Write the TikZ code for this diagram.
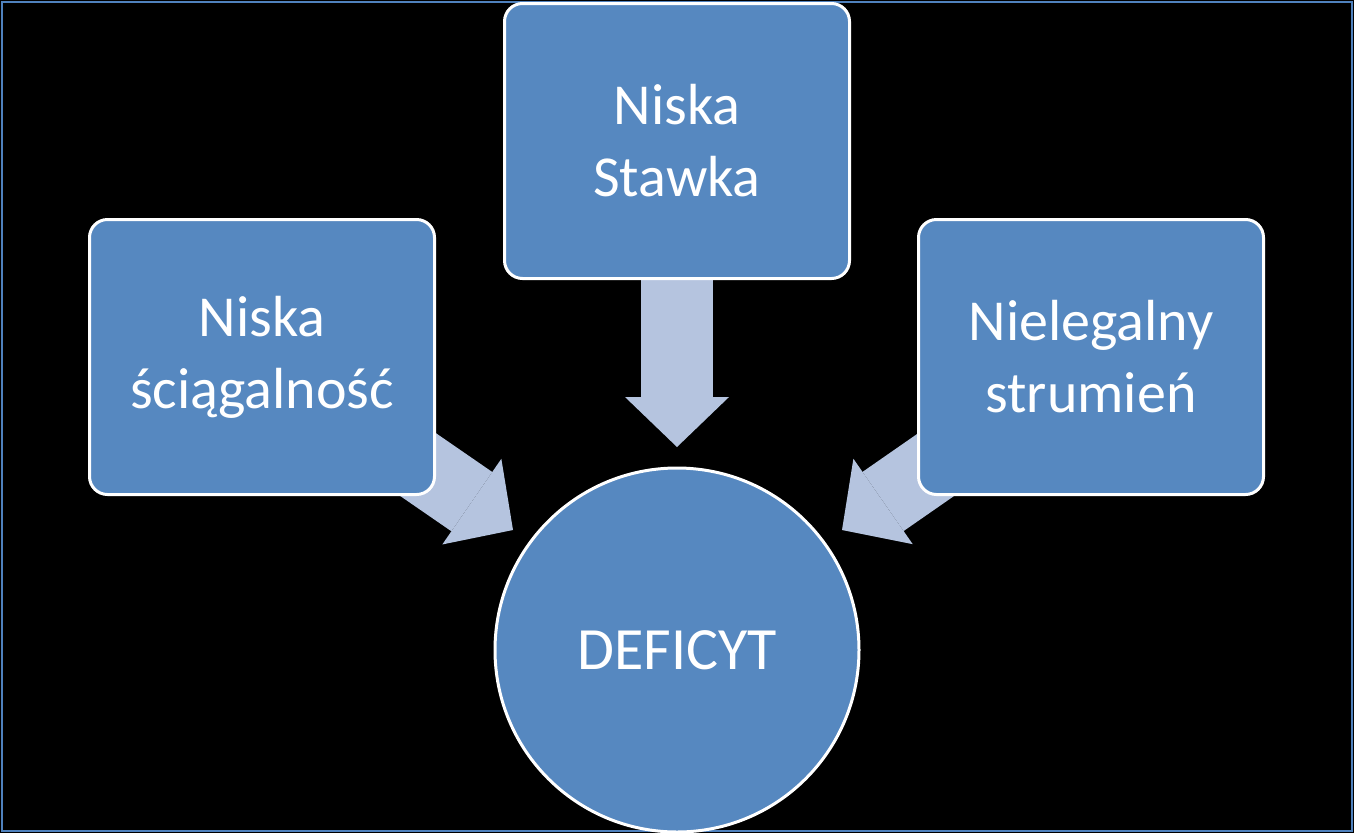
\documentclass[tikz,border=0pt]{standalone}
\usepackage{fontspec}
\setmainfont{Carlito}
\usetikzlibrary{arrows.meta}
\definecolor{boxblue}{RGB}{86,136,192}
\definecolor{flowgrey}{RGB}{181,196,223}
\definecolor{frameblue}{RGB}{79,129,189}
\tikzset{every picture/.style={line width=0.75pt}}
\tikzset{
  cause/.style={draw=white, line width=3pt, fill=boxblue, rounded corners=18pt,
    minimum width=345pt, minimum height=275pt, align=center, text=white,
    font=\fontsize{58pt}{72pt}\selectfont},
  effect/.style={draw=white, line width=3pt, fill=boxblue, circle,
    minimum size=364pt, text=white, font=\fontsize{60pt}{72pt}\selectfont},
  flow/.style={draw=flowgrey, line width=72pt,
    -{Triangle[width=104pt,length=50pt,fill=flowgrey,line width=0pt]}}
}
\begin{document}
\begin{tikzpicture}[x=1pt,y=1pt,yscale=-1]
	% background and frame
	\fill[black] (0,0) rectangle (1354,833);
	\draw[frameblue, line width=1.5pt] (2,2) rectangle (1352,831);
	
	% centres and arrow tips
	\coordinate (cLeft) at (262,357);
	\coordinate (cTop) at (677,141);
	\coordinate (cRight) at (1091,357);
	\coordinate (tipLeft) at (513,530);
	\coordinate (tipTop) at (677,447);
	\coordinate (tipRight) at (842,530);
	
	% arrows
	\draw[flow] (cLeft) -- (tipLeft);
	\draw[flow] (cTop) -- (tipTop);
	\draw[flow] (cRight) -- (tipRight);
	
	% boxes
	\node[cause] (left) at (cLeft) {Niska\\ściągalność};
	\node[cause] (top) at (cTop) {Niska\\Stawka};
	\node[cause] (right) at (cRight) {Nielegalny\\strumień};
	\node[effect] (deficit) at (677,650) {DEFICYT};
\end{tikzpicture}
\end{document}
